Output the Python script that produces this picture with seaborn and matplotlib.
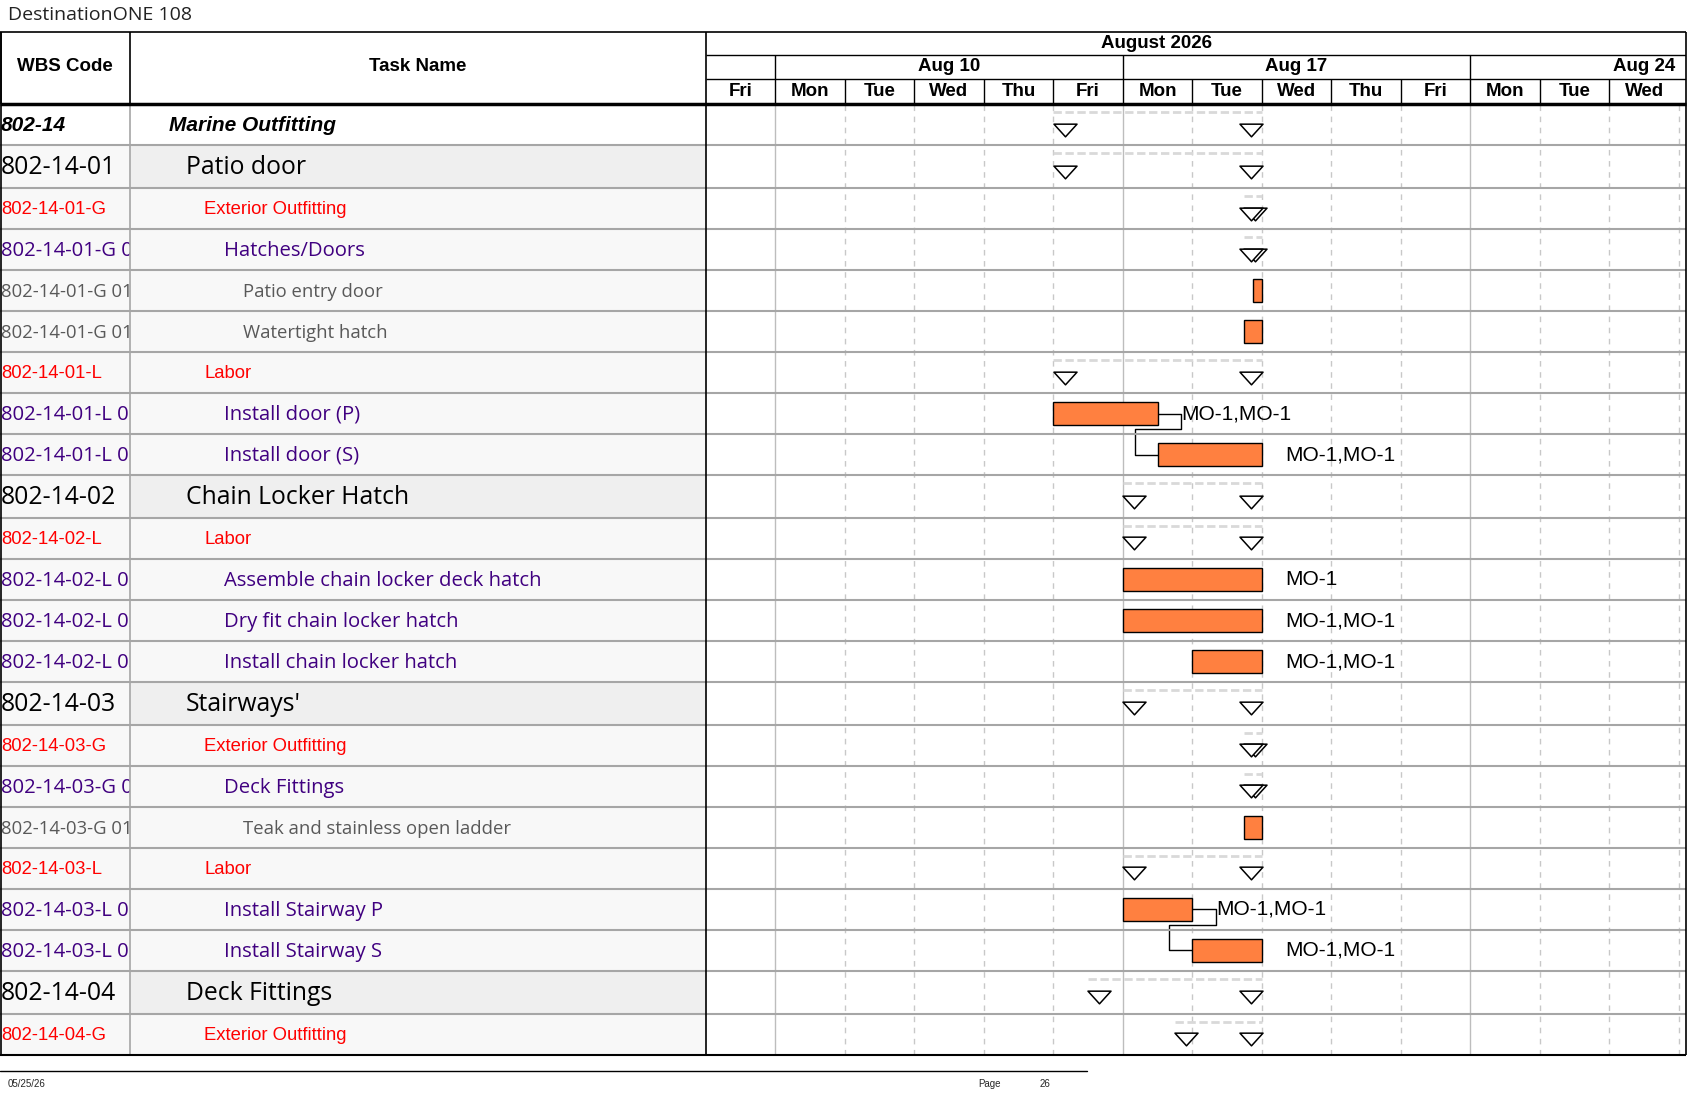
import numpy as np
import matplotlib
matplotlib.use("Agg")
import matplotlib.pyplot as plt
from matplotlib.path import Path
import seaborn as sns

# ---- data ----
wbs_codes = ["802-14", "802-14-01", "802-14-01-G", "802-14-01-G 01", "802-14-01-G 01 01",
             "802-14-01-G 01 02", "802-14-01-L", "802-14-01-L 01", "802-14-01-L 02",
             "802-14-02", "802-14-02-L", "802-14-02-L 01", "802-14-02-L 02", "802-14-02-L 03",
             "802-14-03", "802-14-03-G", "802-14-03-G 01", "802-14-03-G 01 01", "802-14-03-L",
             "802-14-03-L 01", "802-14-03-L 02", "802-14-04", "802-14-04-G"]
task_names = ["Marine Outfitting", "Patio door", "Exterior Outfitting", "Hatches/Doors",
              "Patio entry door", "Watertight hatch", "Labor", "Install door (P)", "Install door (S)",
              "Chain Locker Hatch", "Labor", "Assemble chain locker deck hatch",
              "Dry fit chain locker hatch", "Install chain locker hatch",
              "Stairways'", "Exterior Outfitting", "Deck Fittings", "Teak and stainless open ladder",
              "Labor", "Install Stairway P", "Install Stairway S", "Deck Fittings", "Exterior Outfitting"]
outline_level = [0, 1, 2, 3, 4, 4, 2, 3, 3, 1, 2, 3, 3, 3, 1, 2, 3, 4, 2, 3, 3, 1, 2]
is_summary = [True, True, True, True, False, False, True, False, False,
              True, True, False, False, False, True, True, True, False, True,
              False, False, True, True]
# working days counted from Fri Aug 7 2026 (weekends hidden on the timescale)
task_start = [5.0, 5.0, 7.74, 7.74, 7.87, 7.74, 5.0, 5.0, 6.5, 6.0, 6.0, 6.0, 6.0, 7.0,
              6.0, 7.74, 7.74, 7.74, 6.0, 6.0, 7.0, 5.5, 6.75]
task_finish = [8.0, 8.0, 8.0, 8.0, 8.0, 8.0, 8.0, 6.5, 8.0, 8.0, 8.0, 8.0, 8.0, 8.0,
               8.0, 8.0, 8.0, 8.0, 8.0, 7.0, 8.0, 8.0, 8.0]
resource_names = ["", "", "", "", "", "", "", "MO-1,MO-1", "MO-1,MO-1", "", "", "MO-1",
                  "MO-1,MO-1", "MO-1,MO-1", "", "", "", "", "", "MO-1,MO-1", "MO-1,MO-1", "", ""]
links = [(7, 8), (19, 20)]

month_label = "August 2026"
week_labels = ["Aug 10", "Aug 17", "Aug 24"]
week_first_day = [1, 6, 11]
day_labels = ["Fri", "Mon", "Tue", "Wed", "Thu", "Fri", "Mon", "Tue", "Wed", "Thu",
              "Fri", "Mon", "Tue", "Wed"]

# ---- page layout (in page px) ----
W, H = 1568.0, 1020.0
HEAD_TOP, HEAD_BOT = 30, 97
X_WBS, X_NAME, X_GANTT, X_END = 0, 121, 656, 1567
DAY_W = 64.6
BAR_COLOR = "#FF8040"

level = np.array(outline_level)
row_h = np.where(level == 1, 40.0, 38.1)
row_top = HEAD_BOT + np.cumsum(row_h) - row_h
row_mid = row_top + row_h / 2
BODY_BOT = HEAD_BOT + row_h.sum()

sns.set_theme(style="white")
plt.rcParams["font.family"] = ["DejaVu Sans"]

level_font = {
    0: dict(family="Liberation Sans", size=15, weight="bold", style="italic", color="black"),
    1: dict(family="Open Sans", size=17.8, color="black"),
    2: dict(family="Liberation Sans", size=13.3, color="#ff0000"),
    3: dict(family="Open Sans", size=14.6, color="#400080"),
    4: dict(family="Open Sans", size=13.3, color="#595959"),
}
name_x = {0: 157, 1: 173, 2: 190, 3: 208, 4: 226}


def fbox(x0, y0, x1, y1):
    return [x0 / W, 1 - y1 / H, (x1 - x0) / W, (y1 - y0) / H]


fig = plt.figure(figsize=(16.87, 10.97), dpi=100)

page = fig.add_axes([0, 0, 1, 1])
page.set_xlim(0, W)
page.set_ylim(H, 0)
page.axis("off")

ax_wbs = fig.add_axes(fbox(X_WBS, HEAD_BOT, X_NAME, BODY_BOT))
ax_name = fig.add_axes(fbox(X_NAME, HEAD_BOT, X_GANTT, BODY_BOT))
ax_g = fig.add_axes(fbox(X_GANTT, HEAD_BOT, X_END, BODY_BOT))
ax_h = fig.add_axes(fbox(X_GANTT, HEAD_TOP, X_END, HEAD_BOT))
ax_wbs.set_xlim(X_WBS, X_NAME)
ax_name.set_xlim(X_NAME, X_GANTT)
n_days = (X_END - X_GANTT) / DAY_W
for a in (ax_wbs, ax_name, ax_g):
    a.set_ylim(BODY_BOT, HEAD_BOT)
    a.axis("off")
ax_h.set_xlim(0, n_days)
ax_h.set_ylim(HEAD_BOT, HEAD_TOP)
ax_h.axis("off")

# ---- table side ----
for i in range(len(wbs_codes)):
    top, bot = row_top[i], row_top[i] + row_h[i]
    bg_code = "white" if level[i] == 0 else "#f8f8f8"
    bg_name = "white" if level[i] == 0 else ("#efefef" if level[i] == 1 else "#f8f8f8")
    ax_wbs.axhspan(top, bot, color=bg_code, lw=0, zorder=0)
    ax_name.axhspan(top, bot, color=bg_name, lw=0, zorder=0)
    f = level_font[level[i]]
    ax_wbs.text(1, row_mid[i] + 1, wbs_codes[i], ha="left", va="center", clip_on=True, **f)
    ax_name.text(name_x[level[i]], row_mid[i] + 1, task_names[i], ha="left", va="center",
                 clip_on=True, **f)

# ---- gantt grid ----
ax_g.set_xlim(0, n_days)
for d in range(1, int(np.ceil(n_days))):
    if d in week_first_day:
        ax_g.axvline(d, color="#bdbdbd", lw=1, zorder=0)
    else:
        ax_g.axvline(d, color="#c8c8c8", lw=1, ls=(0, (4, 4)), zorder=0)

start = np.array(task_start)
finish = np.array(task_finish)
summ = np.array(is_summary)
tri_w = 21 / DAY_W

# summary rollup: dashed span + open triangles at both ends
for i in np.where(summ)[0]:
    ax_g.plot([start[i], finish[i]], [row_top[i] + 7.5] * 2, color="#d9d9d9", lw=2,
              ls=(0, (3, 1.3)), solid_capstyle="butt", zorder=2)
tri = Path([(-1, 0.55), (1, 0.55), (0, -0.55), (-1, 0.55)],
           [Path.MOVETO, Path.LINETO, Path.LINETO, Path.CLOSEPOLY])
tri_x = np.concatenate([start[summ] + tri_w / 2, finish[summ] - tri_w / 2])
tri_y = np.concatenate([row_mid[summ] + 4.5, row_mid[summ] + 4.5])
sns.scatterplot(x=tri_x, y=tri_y, marker=tri, s=275, color="white", edgecolor="black",
                linewidth=1.1, ax=ax_g, zorder=4, legend=False)

# task bars
tasks = ~summ
ax_g.barh(row_mid[tasks], finish[tasks] - start[tasks], left=start[tasks], height=21,
          color=BAR_COLOR, edgecolor="black", linewidth=1, zorder=3)

# finish-to-start links
lab_off = 22 / DAY_W
for p, s in links:
    xe, xs = finish[p], start[s]
    ybend = row_top[p] + row_h[p] - 5
    ax_g.plot([xe, xe + lab_off, xe + lab_off, xs - 0.33, xs - 0.33, xs],
              [row_mid[p], row_mid[p], ybend, ybend, row_mid[s], row_mid[s]],
              color="black", lw=1, zorder=2)

for i in np.where(tasks)[0]:
    if resource_names[i]:
        ax_g.text(finish[i] + lab_off, row_mid[i], resource_names[i], ha="left", va="center",
                  family="Liberation Sans", fontsize=15, color="black", zorder=5)
ax_g.set_ylim(BODY_BOT, HEAD_BOT)
ax_g.set_xlim(0, n_days)

# ---- timescale header ----
hdr = dict(family="Liberation Sans", weight="bold", fontsize=13.5, color="black")
ax_h.hlines([51, 73], 0, n_days, color="black", lw=1)
ax_h.vlines(week_first_day, 51, 73, color="black", lw=1)
ax_h.vlines(range(1, len(day_labels)), 73, HEAD_BOT, color="black", lw=1)
ax_h.text((1075 - X_GANTT) / DAY_W, 40.5, month_label, ha="center", va="center", **hdr)
for lab, d0 in zip(week_labels, week_first_day):
    ax_h.text(d0 + 2.5, 62, lab, ha="center", va="center", **hdr)
for d, lab in enumerate(day_labels):
    ax_h.text(d + 0.5, 85, lab, ha="center", va="center", **hdr)
ax_h.set_xlim(0, n_days)

# ---- page text, borders ----
page.text(7, 14, "DestinationONE 108", ha="left", va="center", family="Open Sans",
          fontsize=14, color="#222222")
page.text((X_WBS + X_NAME) / 2, 62, "WBS Code", ha="center", va="center", **hdr)
page.text((X_NAME + X_GANTT) / 2, 62, "Task Name", ha="center", va="center", **hdr)
page.plot([0, 1010], [996, 996], color="black", lw=1)
page.text(7, 1008, "05/25/26", ha="left", va="center", family="Liberation Sans", fontsize=7)
page.text(920, 1008, "Page", ha="center", va="center", family="Liberation Sans", fontsize=7)
page.text(971, 1008, "26", ha="center", va="center", family="Liberation Sans", fontsize=7)

frame = fig.add_axes([0, 0, 1, 1], facecolor="none")
frame.set_xlim(0, W)
frame.set_ylim(H, 0)
frame.axis("off")
frame.hlines(row_top[1:], 0, X_END, color="#a6a6a6", lw=1.5)
frame.vlines(X_NAME, HEAD_BOT, BODY_BOT, color="#a6a6a6", lw=1.2)
frame.vlines([1, X_NAME], HEAD_TOP, HEAD_BOT, color="black", lw=1.2)
frame.vlines([1, X_GANTT, X_END], HEAD_TOP, BODY_BOT, color="black", lw=1.2)
frame.hlines(HEAD_TOP, 0, X_END, color="black", lw=1.2)
frame.hlines(HEAD_BOT, 0, X_END, color="black", lw=2.5)
frame.hlines(BODY_BOT, 0, X_END, color="black", lw=1.5)

fig.savefig("out.png", dpi=100, facecolor="white")
